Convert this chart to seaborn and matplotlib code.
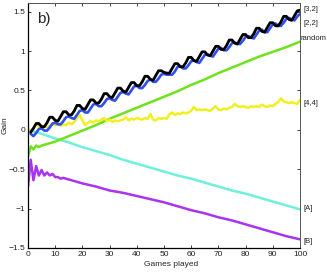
import numpy as np
import seaborn as sns
import matplotlib.pyplot as plt

# games played (x) for the per-game series
games = np.arange(0, 101)

# [3,2] strategy - black, games 1..100
gain_32 = [-0.03, 0.02, 0.08, 0.08, 0.04, 0.04, 0.09, 0.16, 0.16, 0.12,
           0.11, 0.17, 0.23, 0.23, 0.19, 0.19, 0.24, 0.31, 0.31, 0.27,
           0.26, 0.32, 0.38, 0.38, 0.34, 0.34, 0.39, 0.46, 0.46, 0.42,
           0.41, 0.47, 0.53, 0.53, 0.49, 0.48, 0.54, 0.60, 0.60, 0.56,
           0.56, 0.61, 0.68, 0.68, 0.64, 0.63, 0.69, 0.75, 0.75, 0.73,
           0.72, 0.72, 0.78, 0.84, 0.84, 0.80, 0.80, 0.85, 0.92, 0.92,
           0.88, 0.87, 0.93, 0.99, 0.99, 0.95, 0.94, 1.00, 1.06, 1.06,
           1.02, 1.02, 1.07, 1.14, 1.14, 1.10, 1.09, 1.15, 1.21, 1.21,
           1.17, 1.17, 1.22, 1.29, 1.29, 1.25, 1.24, 1.30, 1.36, 1.36,
           1.32, 1.32, 1.37, 1.44, 1.44, 1.40, 1.39, 1.45, 1.51, 1.52]

# [2,2] strategy - blue, games 1..100
gain_22 = [-0.05, -0.08, -0.04, 0.01, 0.02, -0.01, -0.01, 0.03, 0.08, 0.09,
           0.07, 0.07, 0.11, 0.16, 0.17, 0.15, 0.14, 0.19, 0.24, 0.25,
           0.22, 0.22, 0.27, 0.32, 0.33, 0.30, 0.30, 0.34, 0.39, 0.40,
           0.38, 0.37, 0.42, 0.47, 0.48, 0.46, 0.45, 0.50, 0.55, 0.56,
           0.53, 0.53, 0.57, 0.62, 0.64, 0.61, 0.61, 0.65, 0.70, 0.71,
           0.70, 0.70, 0.70, 0.74, 0.80, 0.81, 0.78, 0.78, 0.82, 0.87,
           0.88, 0.86, 0.85, 0.90, 0.95, 0.96, 0.94, 0.93, 0.98, 1.03,
           1.04, 1.01, 1.01, 1.05, 1.10, 1.11, 1.09, 1.09, 1.13, 1.18,
           1.19, 1.17, 1.16, 1.21, 1.26, 1.27, 1.24, 1.24, 1.29, 1.34,
           1.35, 1.32, 1.32, 1.36, 1.41, 1.42, 1.40, 1.39, 1.44, 1.47]

# [4,4] strategy - yellow, games 0..100
gain_44 = [0.02, -0.03, 0.02, 0.08, 0.04, 0.03, 0.05, 0.03, 0.05, 0.07,
           0.06, 0.08, 0.05, 0.07, 0.06, 0.09, 0.07, 0.10, 0.15, 0.19,
           0.12, 0.06, 0.09, 0.11, 0.09, 0.12, 0.11, 0.13, 0.15, 0.11,
           0.13, 0.10, 0.12, 0.11, 0.12, 0.13, 0.16, 0.12, 0.14, 0.13,
           0.15, 0.14, 0.13, 0.15, 0.14, 0.20, 0.13, 0.12, 0.15, 0.14,
           0.15, 0.14, 0.20, 0.22, 0.19, 0.21, 0.20, 0.22, 0.21, 0.22,
           0.24, 0.29, 0.25, 0.26, 0.25, 0.26, 0.25, 0.24, 0.27, 0.30,
           0.26, 0.25, 0.27, 0.26, 0.28, 0.29, 0.33, 0.30, 0.29, 0.30,
           0.29, 0.28, 0.30, 0.29, 0.30, 0.29, 0.32, 0.30, 0.29, 0.31,
           0.30, 0.33, 0.35, 0.40, 0.36, 0.35, 0.34, 0.35, 0.34, 0.33,
           0.38]

# random strategy - green
games_rand = [0, 1, 2, 3, 4, 5, 7, 10, 15, 20, 25, 30, 35, 40, 45, 50,
              55, 60, 65, 70, 75, 80, 85, 90, 95, 100]
gain_rand = [-0.34, -0.21, -0.25, -0.20, -0.22, -0.20, -0.18, -0.15, -0.08,
             -0.01, 0.06, 0.14, 0.21, 0.28, 0.35, 0.42, 0.49, 0.57, 0.64,
             0.72, 0.79, 0.86, 0.93, 0.99, 1.05, 1.12]

# game [A] - cyan
games_a = [0, 5, 10, 15, 20, 25, 30, 35, 40, 45, 50, 55, 60, 65, 70, 75,
           80, 85, 90, 95, 100]
gain_a = [0.0, -0.05, -0.11, -0.16, -0.22, -0.27, -0.32, -0.38, -0.43,
          -0.48, -0.53, -0.58, -0.62, -0.67, -0.72, -0.77, -0.81, -0.86,
          -0.91, -0.96, -1.01]

# game [B] - purple
games_b = [0, 1, 2, 3, 4, 5, 6, 7, 8, 9, 10, 11, 12, 13, 15, 20, 25, 30,
           35, 40, 45, 50, 55, 60, 65, 70, 75, 80, 85, 90, 95, 100]
gain_b = [-0.72, -0.38, -0.64, -0.46, -0.58, -0.51, -0.58, -0.54, -0.58,
          -0.56, -0.60, -0.60, -0.62, -0.61, -0.63, -0.68, -0.72, -0.77,
          -0.80, -0.84, -0.88, -0.92, -0.97, -1.02, -1.06, -1.11, -1.15,
          -1.20, -1.25, -1.30, -1.35, -1.39]

# labels at the right edge
end_labels = ['[3,2]', '[2,2]', 'random', '[4,4]', '[A]', '[B]']
end_label_y = [1.53, 1.35, 1.16, 0.34, -1.0, -1.42]

xticks = list(range(0, 101, 10))
yticks = [-1.5, -1, -0.5, 0, 0.5, 1, 1.5]
ytick_labels = ['\u22121.5', '\u22121', '\u22120.5', '0', '0.5', '1', '1.5']

sns.set_style("ticks")
plt.rcParams['font.family'] = ['Liberation Sans', 'DejaVu Sans']

fig = plt.figure(figsize=(3.27, 2.73), dpi=100)
ax = fig.add_axes([0.0856, 0.0916, 0.8318, 0.8974])

sns.lineplot(x=games_a, y=gain_a, color='#6ff0da', lw=1.8, ax=ax)
sns.lineplot(x=games_b, y=gain_b, color='#aa33ee', lw=1.8, ax=ax)
sns.lineplot(x=games_rand, y=gain_rand, color='#6ee31c', lw=1.8, ax=ax)
sns.lineplot(x=games, y=gain_44, color='#f0f020', lw=1.8, ax=ax)
sns.lineplot(x=games[1:], y=gain_22, color='#2f4fee', lw=1.9, ax=ax)
sns.lineplot(x=games[1:], y=gain_32, color='black', lw=2.0, ax=ax)

ax.set_xlim(0, 100)
ax.set_ylim(-1.5, 1.61)
ax.set_xticks(xticks)
ax.set_xticklabels([str(t) for t in xticks])
ax.set_yticks(yticks)
ax.set_yticklabels(ytick_labels)
ax.tick_params(direction='in', top=True, right=True, length=2.5, width=0.6,
               labelsize=6, pad=2, colors='#222222')
for side in ['top', 'right']:
    ax.spines[side].set_color('#555555')
    ax.spines[side].set_linewidth(0.7)
for side in ['left', 'bottom']:
    ax.spines[side].set_color('black')
    ax.spines[side].set_linewidth(0.9)

ax.set_xlabel('Games played', fontsize=6)
ax.xaxis.set_label_coords(0.526, -0.055)
ax.set_ylabel('Gain', fontsize=6)
ax.yaxis.set_label_coords(-0.072, 0.5)

ax.text(0.033, 0.965, 'b)', transform=ax.transAxes, fontsize=11,
        va='top', ha='left')

for lab, y in zip(end_labels, end_label_y):
    x = 100.1 if lab == 'random' else 101.2
    ax.text(x, y, lab, fontsize=5.5, va='center', ha='left', clip_on=False,
            color='#222222')

fig.savefig('out.png', dpi=100)
